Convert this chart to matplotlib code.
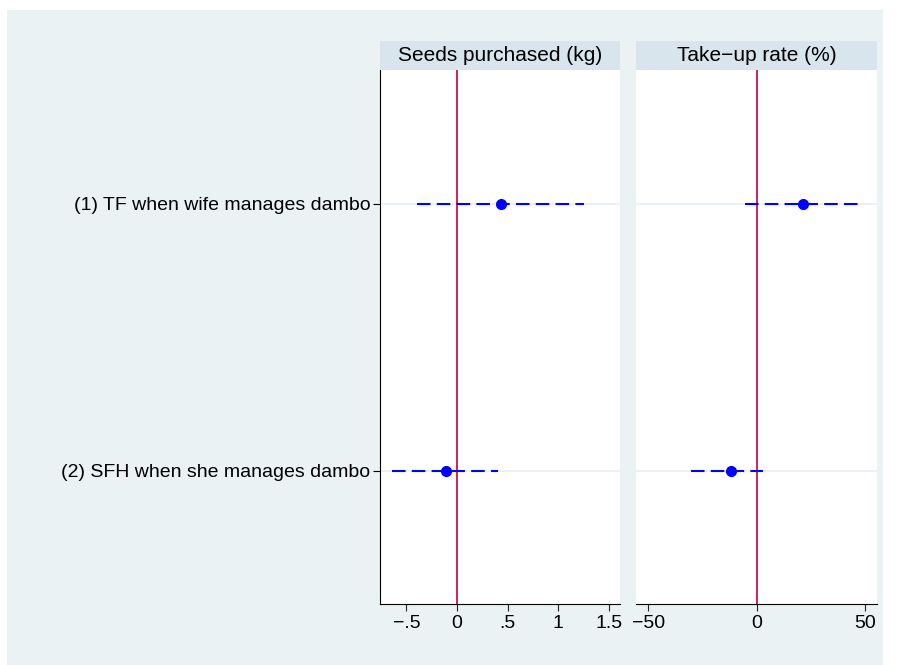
import numpy as np
import matplotlib.pyplot as plt
from matplotlib.patches import Rectangle

plt.rcParams['font.family'] = ['Liberation Sans', 'DejaVu Sans']

# Coefficients and 95% CIs
rows = ['(1) TF when wife manages dambo', '(2) SFH when she manages dambo']
seeds_coef = [0.43, -0.11]
seeds_lo = [-0.39, -0.64]
seeds_hi = [1.25, 0.41]
takeup_coef = [21.6, -11.9]
takeup_lo = [-5.4, -30.1]
takeup_hi = [49.0, 3.1]

panels = [
    ('Seeds purchased (kg)', seeds_coef, seeds_lo, seeds_hi,
     (-0.76, 1.61), [-0.5, 0, 0.5, 1, 1.5], ['\u2212.5', '0', '.5', '1', '1.5']),
    ('Take\u2212up rate (%)', takeup_coef, takeup_lo, takeup_hi,
     (-55.7, 55.7), [-50, 0, 50], ['\u221250', '0', '50']),
]

W, H = 902, 665
fig = plt.figure(figsize=(W / 100, H / 100), dpi=100, facecolor='white')
bg = '#EAF2F3'
strip = '#D9E5EC'
fig.patches.append(Rectangle((7 / W, 0), (883 - 7) / W, 1 - 10 / H,
                             transform=fig.transFigure, facecolor=bg,
                             edgecolor='none', zorder=-10))

boxes = [(380, 620), (636, 877)]
top, bot, head = 70, 604, 41
ypos = np.arange(1, len(rows) + 1)

for i, ((title, coef, lo, hi, xl, ticks, tlabels), (x0, x1)) in enumerate(zip(panels, boxes)):
    ax = fig.add_axes([x0 / W, 1 - bot / H, (x1 - x0) / W, (bot - top) / H])
    ax.set_facecolor('white')
    for y in ypos:
        ax.axhline(y, color='#E6EEF1', lw=1.2, zorder=1)
    ax.axvline(0, color='#D10F4A', lw=1.3, zorder=2)
    ax.hlines(ypos, lo, hi, colors='blue', linestyles=(0, (6.5, 3)), lw=1.5, zorder=3)
    ax.plot(coef, ypos, 'o', color='blue', ms=7, zorder=4)
    ax.set_xlim(*xl)
    ax.set_ylim(2.5, 0.5)
    ax.set_xticks(ticks)
    ax.set_xticklabels(tlabels, fontsize=14)
    ax.tick_params(axis='x', length=5, width=0.8, pad=3, color='#222222')
    for s in ['top', 'right']:
        ax.spines[s].set_visible(False)
    ax.spines['bottom'].set_linewidth(0.8)
    if i == 0:
        ax.set_yticks(ypos)
        ax.set_yticklabels(rows, fontsize=14)
        ax.tick_params(axis='y', length=5, width=0.8, pad=2)
        ax.spines['left'].set_linewidth(0.8)
    else:
        ax.set_yticks([])
        ax.spines['left'].set_visible(False)

    # header strip
    fig.patches.append(Rectangle((x0 / W, 1 - top / H), (x1 - x0) / W, (top - head) / H,
                                 transform=fig.transFigure, facecolor=strip,
                                 edgecolor='none'))
    fig.text((x0 + x1) / 2 / W, 1 - (top + head) / 2 / H, title,
             ha='center', va='center', fontsize=15)

fig.savefig('out.png', dpi=100, facecolor='white')
